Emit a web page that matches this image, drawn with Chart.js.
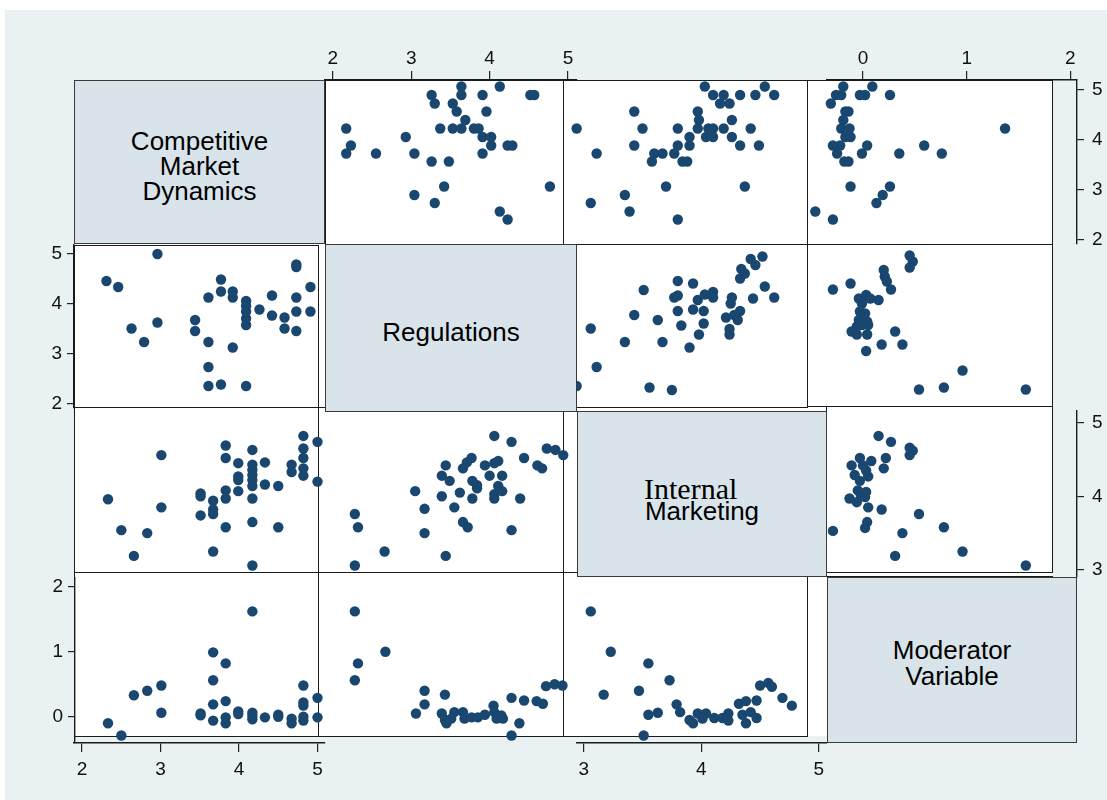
<!DOCTYPE html>
<html>
<head>
<meta charset="utf-8">
<script src="https://cdn.jsdelivr.net/npm/chart.js@4.4.0/dist/chart.umd.min.js"></script>
<style>
  html, body { margin: 0; padding: 0; background: #fff; }
  #stage { position: relative; width: 1107px; height: 800px; overflow: hidden; font-family: "Liberation Sans", Arial, sans-serif; }
  .abs { position: absolute; }
  .bg { left: 5px; top: 10px; width: 1102px; height: 790px; background: #e9f1f3; }
  .plot { left: 74px; top: 80px; width: 978px; height: 656px; background: #fff; }
  .cell { position: absolute; background: #fff; border: 1px solid #1b1b1b; box-sizing: border-box; z-index: 1; }
  .hline { position: absolute; height: 1px; background: #1b1b1b; z-index: 1; }
  .box { position: absolute; background: #d8e4ea; border: 1px solid #3a3a3a; box-sizing: border-box; z-index: 5; }
  .ln { position: absolute; left: 0; right: 0; text-align: center; font-size: 26px; line-height: 25px; color: #000; white-space: nowrap; }
  .serif { font-family: "Liberation Serif", "Times New Roman", serif; font-size: 30px; line-height: 30px; text-align: left; }
  canvas { position: absolute; z-index: 3; }
</style>
</head>
<body>
<div id="stage">
  <div class="abs bg"></div>
  <div class="abs plot"></div>

  <div class="box" style="left:74px;top:80px;width:251px;height:164px">
    <div class="ln" style="top:48px">Competitive</div>
    <div class="ln" style="top:73px">Market</div>
    <div class="ln" style="top:98px">Dynamics</div>
  </div>
  <div class="box" style="left:325px;top:244px;width:252px;height:168px">
    <div class="ln" style="top:75px">Regulations</div>
  </div>
  <div class="box" style="left:577px;top:411px;width:250px;height:166px">
    <div class="ln serif" style="top:62px;left:66px">Internal</div>
    <div class="ln" style="top:87px">Marketing</div>
  </div>
  <div class="box" style="left:827px;top:577px;width:250px;height:166px">
    <div class="ln" style="top:60px">Moderator</div>
    <div class="ln" style="top:86px">Variable</div>
  </div>
</div>

<script>
// tick labels of each variable
const cmdTicks = [2, 3, 4, 5];
const regTicks = [2, 3, 4, 5];
const imTicks = [3, 4, 5];
const modTicks = [0, 1, 2];

// panel data, [x, y]
// row 1: y = Competitive Market Dynamics
const regCmd = [[2.17,4.23],[2.23,3.89],[2.17,3.73],[2.55,3.73],[2.93,4.06],[3.04,3.73],[3.04,2.90],[3.26,4.90],[3.30,4.73],[3.26,3.57],[3.30,2.74],[3.37,4.23],[3.42,3.07],[3.48,3.57],[3.53,4.73],[3.58,4.57],[3.53,4.23],[3.64,5.07],[3.64,4.90],[3.64,4.23],[3.69,4.40],[3.80,4.23],[3.86,4.23],[3.91,4.90],[3.96,4.57],[3.91,4.06],[4.02,4.06],[4.02,3.89],[3.91,3.73],[4.13,5.07],[4.23,3.89],[4.29,3.89],[4.13,2.57],[4.23,2.41],[4.52,4.90],[4.57,4.90],[4.77,3.07]];
const imCmd = [[2.94,4.23],[3.11,3.73],[3.06,2.74],[3.35,2.90],[3.39,2.57],[3.43,4.57],[3.43,3.89],[3.50,4.23],[3.58,3.57],[3.60,3.73],[3.67,3.73],[3.70,3.07],[3.77,3.73],[3.80,2.41],[3.80,4.23],[3.80,3.89],[3.84,3.57],[3.88,3.57],[3.90,4.06],[3.90,3.89],[3.97,4.57],[3.98,4.40],[3.97,4.23],[4.03,5.07],[4.04,4.06],[4.06,4.23],[4.10,4.90],[4.10,4.23],[4.10,4.06],[4.16,4.73],[4.19,4.90],[4.19,4.23],[4.24,4.73],[4.26,4.40],[4.26,4.06],[4.33,4.90],[4.33,3.89],[4.37,3.07],[4.42,4.23],[4.46,4.90],[4.49,3.89],[4.54,5.07],[4.62,4.90]];
const modCmd = [[-0.46,2.57],[-0.29,2.41],[-0.31,4.73],[-0.26,4.90],[-0.19,5.07],[-0.21,4.90],[-0.17,4.57],[-0.14,4.57],[-0.19,4.40],[-0.21,4.23],[-0.13,4.23],[-0.17,4.06],[-0.12,4.06],[-0.29,3.89],[-0.22,3.89],[-0.25,3.73],[-0.18,3.57],[-0.14,3.57],[-0.01,3.73],[0.04,3.89],[-0.03,4.90],[0.02,4.90],[0.09,5.07],[0.26,4.90],[0.35,3.73],[0.59,3.89],[0.76,3.73],[1.37,4.23],[-0.12,3.07],[0.13,2.74],[0.19,2.90],[0.26,3.07]];
// row 2: y = Regulations
const cmdReg = [[2.31,4.46],[2.46,4.34],[2.63,3.51],[2.79,3.24],[2.96,5.00],[2.96,3.63],[3.44,3.68],[3.44,3.46],[3.61,4.13],[3.61,3.24],[3.61,2.74],[3.61,2.36],[3.77,4.49],[3.77,4.25],[3.77,2.39],[3.92,4.25],[3.92,4.13],[3.92,3.13],[4.09,4.06],[4.09,3.96],[4.09,3.85],[4.09,3.71],[4.09,3.58],[4.09,2.36],[4.26,3.89],[4.42,4.17],[4.42,3.77],[4.58,3.73],[4.58,3.51],[4.73,4.79],[4.73,4.74],[4.73,4.13],[4.73,3.85],[4.73,3.46],[4.91,4.34],[4.91,3.85]];
const imReg = [[2.94,2.36],[3.06,3.51],[3.11,2.74],[3.35,3.24],[3.43,3.78],[3.51,4.28],[3.56,2.33],[3.63,3.68],[3.67,3.24],[3.75,2.28],[3.77,4.13],[3.80,4.17],[3.80,4.46],[3.80,3.86],[3.83,3.57],[3.90,3.13],[3.93,4.41],[3.93,3.89],[3.97,4.08],[3.98,3.39],[4.02,3.61],[4.02,3.86],[4.03,4.19],[4.10,4.24],[4.10,4.13],[4.21,3.73],[4.24,3.50],[4.24,3.39],[4.25,4.01],[4.26,4.13],[4.28,3.78],[4.31,3.68],[4.33,3.86],[4.33,4.51],[4.34,4.70],[4.37,4.61],[4.42,4.90],[4.46,4.78],[4.52,4.95],[4.44,4.11],[4.54,4.35],[4.62,4.13]];
const modReg = [[-0.29,4.29],[-0.12,4.41],[-0.04,4.11],[0.03,4.18],[-0.01,4.01],[0.07,4.11],[0.15,4.08],[0.20,4.68],[0.21,4.55],[0.23,4.45],[0.27,4.29],[0.45,4.97],[0.48,4.85],[0.45,4.73],[-0.03,3.85],[0.00,3.75],[-0.04,3.68],[0.04,3.65],[-0.01,3.58],[0.05,3.58],[-0.11,3.45],[-0.06,3.39],[0.04,3.39],[0.31,3.45],[0.18,3.19],[0.38,3.19],[0.03,3.06],[0.96,2.67],[0.54,2.29],[0.78,2.33],[1.57,2.29],[-0.06,3.55],[0.02,3.81]];
// row 3: y = Internal Marketing
const cmdIm = [[2.33,3.96],[2.50,3.54],[2.66,3.19],[2.83,3.50],[3.01,4.56],[3.01,3.85],[3.51,4.04],[3.51,4.00],[3.51,3.74],[3.67,3.94],[3.67,3.82],[3.67,3.76],[3.67,3.25],[3.83,4.69],[3.83,4.52],[3.83,4.08],[3.83,3.97],[3.83,3.58],[3.99,4.45],[3.99,4.27],[3.99,4.22],[3.99,4.07],[4.17,4.63],[4.17,4.43],[4.17,4.36],[4.17,4.29],[4.17,4.22],[4.17,4.14],[4.17,3.97],[4.17,3.65],[4.17,3.06],[4.33,4.46],[4.33,4.16],[4.50,4.14],[4.50,3.58],[4.67,4.43],[4.67,4.33],[4.82,4.82],[4.82,4.65],[4.82,4.52],[4.82,4.38],[4.82,4.28],[5.00,4.74],[5.00,4.20]];
const regIm = [[2.28,3.76],[2.32,3.58],[2.28,3.06],[2.66,3.25],[3.05,4.07],[3.17,3.83],[3.17,3.50],[3.39,4.28],[3.39,4.00],[3.44,4.42],[3.44,3.19],[3.49,4.21],[3.55,3.85],[3.62,4.05],[3.66,4.38],[3.66,3.65],[3.71,4.46],[3.72,3.58],[3.77,4.52],[3.78,4.21],[3.78,3.97],[3.84,4.15],[3.84,4.11],[3.94,4.42],[4.00,4.28],[4.06,4.82],[4.06,4.45],[4.06,4.03],[4.06,3.97],[4.11,4.48],[4.11,4.14],[4.16,4.28],[4.16,4.07],[4.28,4.74],[4.28,3.54],[4.39,3.97],[4.44,4.52],[4.61,4.42],[4.67,4.38],[4.73,4.65],[4.84,4.63],[4.94,4.56]];
const modIm = [[0.15,4.82],[0.27,4.74],[0.45,4.66],[0.48,4.62],[0.45,4.56],[0.22,4.52],[0.20,4.38],[-0.03,4.52],[0.08,4.48],[-0.11,4.42],[0.00,4.42],[0.03,4.35],[-0.08,4.29],[0.05,4.27],[-0.03,4.21],[-0.05,4.08],[0.03,4.06],[-0.02,4.01],[-0.13,3.97],[-0.06,3.92],[0.02,3.99],[0.05,3.85],[0.18,3.82],[0.54,3.76],[0.04,3.65],[0.02,3.57],[-0.29,3.53],[0.38,3.50],[0.78,3.58],[0.31,3.19],[0.96,3.25],[1.57,3.06]];
// row 4: y = Moderator Variable
const cmdMod = [[2.33,-0.10],[2.50,-0.29],[2.66,0.33],[2.83,0.40],[3.01,0.48],[3.01,0.06],[3.51,0.05],[3.51,0.02],[3.67,0.99],[3.67,0.56],[3.67,0.19],[3.67,-0.06],[3.83,0.82],[3.83,0.24],[3.83,-0.01],[3.83,-0.10],[3.99,0.08],[3.99,0.04],[4.17,1.62],[4.17,0.06],[4.17,0.01],[4.17,-0.04],[4.33,-0.01],[4.50,0.03],[4.50,0.00],[4.67,-0.03],[4.67,-0.10],[4.82,0.48],[4.82,0.22],[4.82,0.17],[4.82,0.00],[4.82,-0.06],[5.00,0.29],[5.00,-0.01]];
const regMod = [[2.28,1.62],[2.67,1.00],[2.32,0.82],[2.28,0.56],[3.17,0.40],[3.17,0.19],[3.06,0.05],[3.43,0.34],[3.39,0.05],[3.43,-0.05],[3.45,-0.10],[3.55,0.07],[3.51,-0.03],[3.66,0.07],[3.68,-0.03],[3.77,-0.01],[3.85,-0.01],[3.94,0.03],[4.05,0.17],[4.06,0.07],[4.09,-0.03],[4.15,0.02],[4.17,-0.03],[4.28,0.29],[4.44,0.25],[4.38,-0.10],[4.28,-0.29],[4.60,0.24],[4.68,0.20],[4.72,0.47],[4.83,0.50],[4.93,0.48]];
const imMod = [[3.06,1.62],[3.23,1.00],[3.17,0.34],[3.55,0.82],[3.47,0.40],[3.73,0.56],[3.51,-0.29],[3.55,0.03],[3.63,0.06],[3.79,0.19],[3.82,0.07],[3.90,-0.05],[3.93,-0.10],[3.97,0.05],[4.04,0.05],[4.01,-0.03],[4.11,-0.02],[4.18,-0.02],[4.23,0.05],[4.23,-0.06],[4.32,0.20],[4.38,0.24],[4.35,0.03],[4.38,-0.10],[4.42,0.07],[4.47,0.25],[4.47,-0.02],[4.50,0.48],[4.57,0.52],[4.60,0.46],[4.69,0.29],[4.77,0.17]];

const NAVY = "#1a476f";
const FONT = '"Liberation Sans", Arial, sans-serif';

// where each variable sits on the page: value v lands at pixel "at", "px" pixels per unit
const colScale = [
  { at: 82.1, v: 2, px: 78.47 },
  { at: 332.9, v: 2, px: 78.35 },
  { at: 583.7, v: 3, px: 117.6 },
  { at: 863, v: 0, px: 103.7 },
];
const rowScale = [
  { at: 90, v: 5, px: 50 },
  { at: 254, v: 5, px: 50 },
  { at: 422.7, v: 5, px: 73.6 },
  { at: 586.7, v: 2, px: 65 },
];
const xVal = (c, p) => colScale[c].v + (p - colScale[c].at) / colScale[c].px;
const yVal = (r, p) => rowScale[r].v - (p - rowScale[r].at) / rowScale[r].px;

const stage = document.getElementById("stage");

function makeCanvas(left, top, w, h) {
  const cv = document.createElement("canvas");
  cv.width = Math.round(w);
  cv.height = Math.round(h);
  cv.style.left = Math.round(left) + "px";
  cv.style.top = Math.round(top) + "px";
  stage.appendChild(cv);
  return cv.getContext("2d");
}

function cellBox(l, t, r, b) {
  const d = document.createElement("div");
  d.className = "cell";
  d.style.cssText = `left:${l}px;top:${t}px;width:${r - l + 1}px;height:${b - t + 1}px`;
  stage.appendChild(d);
}

function cellChart(row, col, [l, t, r, b], pts) {
  cellBox(l, t, r, b);
  const m = 8;
  const ctx = makeCanvas(l - m, t - m, r - l + 2 * m, b - t + 2 * m);
  new Chart(ctx, {
    type: "scatter",
    data: {
      datasets: [{
        data: pts.map(([x, y]) => ({ x, y })),
        backgroundColor: NAVY,
        borderWidth: 0,
        pointRadius: 5.2,
        clip: false,
      }],
    },
    options: {
      responsive: false,
      animation: false,
      events: [],
      layout: { padding: m },
      plugins: { legend: { display: false }, tooltip: { enabled: false } },
      scales: {
        x: { type: "linear", display: false, min: xVal(col, l), max: xVal(col, r) },
        y: { type: "linear", display: false, min: yVal(row, b), max: yVal(row, t) },
      },
    },
  });
}

// label gap between tick and number, per side
const labelGap = { top: 1, bottom: 6, left: 5, right: 8 };

// one visible axis, its line running from "from" to "to" at page coordinate "pos"
function axisChart(side, pos, from, to, idx, ticks) {
  const H = 40, pad = 14, s = 4;
  const horiz = side === "top" || side === "bottom";
  let left, top, w, h;
  if (horiz) {
    left = from - pad; w = to - from + 2 * pad; h = H + s;
    top = side === "top" ? pos - H : pos - s;
  } else {
    top = from - pad; h = to - from + 2 * pad; w = H + s;
    left = side === "left" ? pos - H : pos - s;
  }
  const ctx = makeCanvas(left, top, w, h);
  const axis = {
    type: "linear",
    position: side,
    min: horiz ? xVal(idx, from) : yVal(idx, to),
    max: horiz ? xVal(idx, to) : yVal(idx, from),
    afterBuildTicks: (sc) => { sc.ticks = ticks.map((v) => ({ value: v })); },
    afterFit: (sc) => {
      if (horiz) sc.height = H; else sc.width = H;
      sc.paddingLeft = sc.paddingRight = sc.paddingTop = sc.paddingBottom = 0;
    },
    ticks: { color: "#111", font: { size: 19, family: FONT }, padding: labelGap[side] },
    grid: { drawOnChartArea: false, drawTicks: true, tickLength: horiz ? 9 : 7, color: "#222", lineWidth: 1.2 },
    border: { display: true, color: "#1b1b1b", width: 1.4 },
  };
  const other = { type: "linear", display: false, min: 0, max: 1 };
  new Chart(ctx, {
    type: "scatter",
    data: { datasets: [] },
    options: {
      responsive: false,
      animation: false,
      events: [],
      layout: { padding: horiz ? { left: pad, right: pad } : { top: pad, bottom: pad } },
      plugins: { legend: { display: false }, tooltip: { enabled: false } },
      scales: horiz ? { x: axis, y: other } : { x: other, y: axis },
    },
  });
}

// cells: row, col, [left, top, right, bottom]
cellChart(0, 1, [325, 80, 563, 244], regCmd);
cellChart(0, 2, [563, 80, 807, 244], imCmd);
cellChart(0, 3, [807, 80, 1052, 244], modCmd);
cellChart(1, 0, [74, 245, 318, 407], cmdReg);
cellChart(1, 2, [563, 244, 807, 407], imReg);
cellChart(1, 3, [807, 244, 1052, 406], modReg);
cellChart(2, 0, [74, 407, 318, 572], cmdIm);
cellChart(2, 1, [318, 407, 563, 572], regIm);
cellChart(2, 3, [826, 406, 1052, 572], modIm);
cellChart(3, 0, [74, 572, 318, 736], cmdMod);
cellChart(3, 1, [318, 572, 563, 736], regMod);
cellChart(3, 2, [563, 572, 807, 736], imMod);

const extra = document.createElement("div");
extra.className = "hline";
extra.style.cssText = "left:826px;top:576px;width:227px";
stage.appendChild(extra);

// outer axes
axisChart("top", 80, 325, 577, 1, regTicks);
axisChart("top", 80, 827, 1077, 3, modTicks);
axisChart("right", 1077, 80, 244, 0, cmdTicks);
axisChart("right", 1077, 411, 577, 2, imTicks);
axisChart("left", 74, 245, 408, 1, regTicks);
axisChart("left", 75, 578, 743, 3, modTicks);
axisChart("bottom", 743, 74, 325, 0, cmdTicks);
axisChart("bottom", 743, 577, 827, 2, imTicks);
</script>
</body>
</html>
